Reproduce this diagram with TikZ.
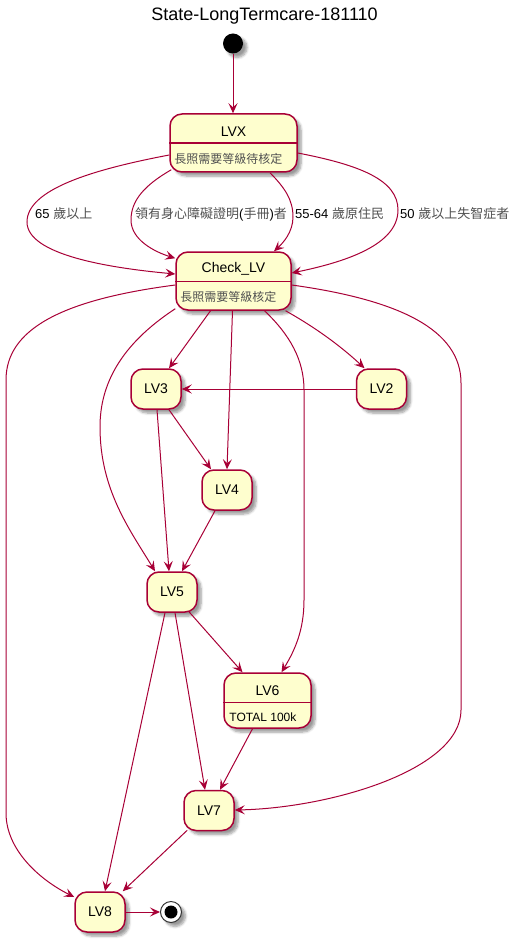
\documentclass[tikz,border=0pt]{standalone}
\usepackage{fontspec}
\setmainfont{Liberation Sans}
\newfontfamily\cjk{Noto Sans CJK TC}
\usetikzlibrary{arrows.meta,calc,shadows.blur}

\definecolor{umlred}{HTML}{A80036}
\definecolor{umlfill}{HTML}{FEFECE}
\definecolor{cjkgray}{HTML}{505050}

\tikzset{
  softshadow/.style={blur shadow={shadow xshift=4pt, shadow yshift=-4pt,
      shadow blur radius=2.5pt, shadow blur steps=6, shadow opacity=40}},
  statebox/.style={draw=umlred, line width=1.5pt, fill=umlfill,
      rounded corners=12pt, inner sep=0pt, softshadow},
  simplestate/.style={statebox, minimum width=50pt, minimum height=40pt,
      font=\fontsize{14}{16}\selectfont},
  statename/.style={inner sep=0pt, font=\fontsize{14}{16}\selectfont},
  statedesc/.style={inner sep=0pt, anchor=west, font=\fontsize{12}{14}\selectfont},
  divider/.style={draw=umlred, line width=1.5pt},
  edge/.style={draw=umlred, line width=1pt,
      -{Stealth[length=10pt, width=9pt, inset=4pt]}},
  edgelabel/.style={inner sep=0pt, anchor=west, font=\fontsize{13}{15}\selectfont},
}

\begin{document}
\begin{tikzpicture}[x=1pt, y=-1pt]
\useasboundingbox (0,0) rectangle (520,941);

% title
\node[inner sep=0pt, font=\fontsize{18}{20}\selectfont] (title) at (264.5,16) {State-LongTermcare-181110};

% initial and final pseudo-states
\node[circle, fill=black, minimum size=20pt, inner sep=0pt, softshadow] (S) at (233,43.5) {};
\node[circle, draw=black!80, line width=1pt, fill=white, minimum size=21pt, inner sep=0pt, softshadow] (E) at (171,912) {};
\node[circle, fill=black, minimum size=13pt, inner sep=0pt] (Ein) at (E) {};

% composite states with a description compartment
\node[statebox, minimum width=127pt, minimum height=58pt] (LVX) at (233.5,143) {};
\draw[divider] ($(LVX.north west)+(0,30)$) -- ($(LVX.north east)+(0,30)$);
\node[statename] (LVXname) at ($(LVX.north)+(0,18)$) {LVX};
\node[statedesc, text=cjkgray] (LVXdesc) at ($(LVX.north west)+(5,46)$) {\cjk 長照需要等級待核定};

\node[statebox, minimum width=115pt, minimum height=58pt] (CLV) at (233.5,281) {};
\draw[divider] ($(CLV.north west)+(0,30)$) -- ($(CLV.north east)+(0,30)$);
\node[statename] (CLVname) at ($(CLV.north)+(0,18)$) {Check\_LV};
\node[statedesc, text=cjkgray] (CLVdesc) at ($(CLV.north west)+(5,46)$) {\cjk 長照需要等級核定};

\node[statebox, minimum width=87pt, minimum height=55pt] (LV6) at (267.5,700.5) {};
\draw[divider] ($(LV6.north west)+(0,30)$) -- ($(LV6.north east)+(0,30)$);
\node[statename] (LV6name) at ($(LV6.north)+(0,18)$) {LV6};
\node[statedesc] (LV6desc) at ($(LV6.north west)+(6,45)$) {TOTAL 100k};

% simple states
\node[simplestate] (LV3) at (156,389) {LV3};
\node[simplestate] (LV2) at (381.5,389) {LV2};
\node[simplestate] (LV4) at (227,490) {LV4};
\node[simplestate] (LV5) at (172,592) {LV5};
\node[simplestate] (LV7) at (209,810.5) {LV7};
\node[simplestate] (LV8) at (100,912) {LV8};

% transitions
\draw[edge] (S.south) -- (S.south |- LVX.north);

\draw[edge] ($(LVX.west)+(0,12)$) .. controls (90,170) and (27,190) .. (27,222)
  .. controls (27,255) and (110,268) .. ($(CLV.west)+(0,-7)$);
\draw[edge] ($(LVX.south west)+(2,-3)$) .. controls (145,185) and (131,200) .. (131,220)
  .. controls (131,240) and (155,252) .. ($(CLV.north west)+(0,7)$);
\draw[edge] ($(LVX.south)+(36.5,0)$) .. controls (285,188) and (293,200) .. (293,217)
  .. controls (293,232) and (283,243) .. ($(CLV.north)+(40.5,0)$);
\draw[edge] ($(LVX.east)+(0,10)$) .. controls (360,165) and (398,180) .. (398,210)
  .. controls (398,245) and (345,262) .. ($(CLV.east)+(0,-8)$);

\node[edgelabel] (l1) at (35,214) {65 {\color{cjkgray}\cjk 歲以上}};
\node[edgelabel] (l2) at (135,214) {{\color{cjkgray}\cjk 領有身心障礙證明}({\color{cjkgray}\cjk 手冊}){\color{cjkgray}\cjk 者}};
\node[edgelabel] (l3) at (295,214) {55-64 {\color{cjkgray}\cjk 歲原住民}};
\node[edgelabel] (l4) at (400,214) {50 {\color{cjkgray}\cjk 歲以上失智症者}};

\draw[edge] ($(CLV.west)+(0,4)$) .. controls (60,300) and (6,330) .. (6,380)
  -- (6,813) .. controls (6,850) and (40,880) .. ($(LV8.west)+(0,-15)$);
\draw[edge] ($(CLV.south west)+(0,-2)$) .. controls (120,345) and (100,385) .. (100,427)
  .. controls (100,490) and (130,530) .. ($(LV5.north)+(-17,0)$);
\draw[edge] ($(CLV.south)+(-23,0)$) -- ($(LV3.north)+(13,0)$);
\draw[edge] ($(CLV.south)+(-1,0)$) -- (LV4.north);
\draw[edge] ($(CLV.south)+(31,0)$) .. controls (290,335) and (304,360) .. (304,390)
  -- (304,600) .. controls (304,630) and (295,650) .. ($(LV6.north)+(14,0)$);
\draw[edge] ($(CLV.south)+(52,0)$) .. controls (320,330) and (345,350) .. ($(LV2.north)+(-17,0)$);
\draw[edge] ($(CLV.east)+(0,4)$) .. controls (400,300) and (461,330) .. (461,383)
  -- (461,710) .. controls (461,770) and (330,808) .. ($(LV7.east)+(0,-0.5)$);

\draw[edge] (LV2.west) -- (LV3.east);
\draw[edge] ($(LV3.south)+(13,0)$) -- ($(LV4.north)+(-16,0)$);
\draw[edge] ($(LV3.south)+(1,0)$) -- ($(LV5.north)+(-3,0)$);
\draw[edge] ($(LV4.south)+(-12,0)$) -- ($(LV5.north)+(10,0)$);
\draw[edge] ($(LV5.south)+(17,-1)$) -- ($(LV6.north)+(-25,0)$);
\draw[edge] ($(LV5.south)+(3,0)$) -- ($(LV7.north)+(-4,0)$);
\draw[edge] ($(LV5.south)+(-7,0)$) -- ($(LV8.north)+(5,0)$);
\draw[edge] ($(LV6.south)+(-15,0)$) -- ($(LV7.north)+(11,0)$);
\draw[edge] ($(LV7.south west)+(4,-1)$) -- ($(LV8.north east)+(-3,0)$);
\draw[edge] (LV8.east) -- (E.west);
\end{tikzpicture}
\end{document}
